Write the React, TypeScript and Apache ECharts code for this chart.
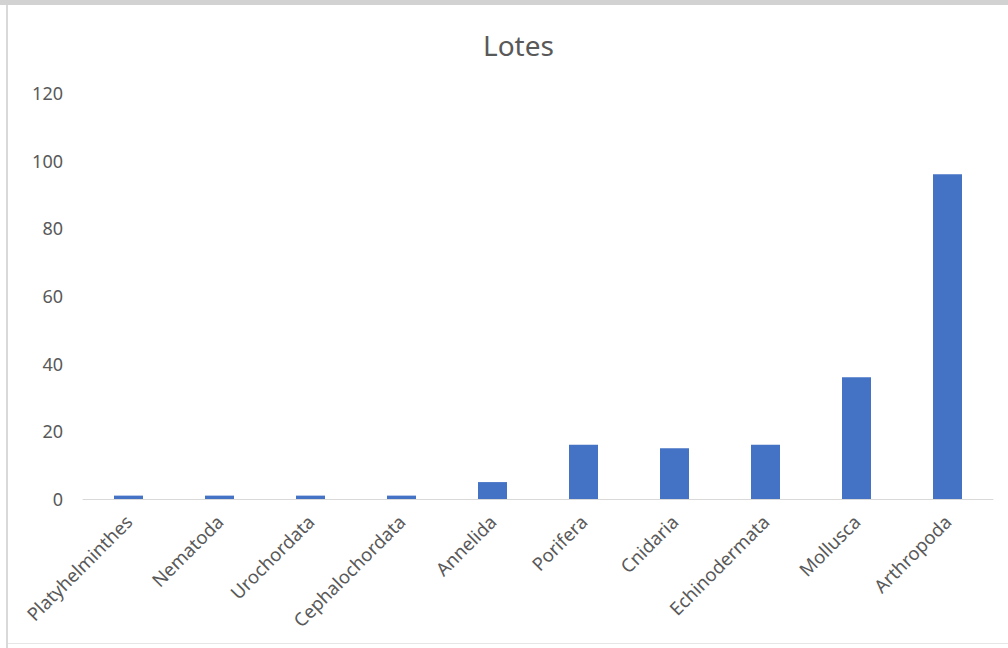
import React, { useEffect, useRef } from "react";
import * as echarts from "echarts";

const categories = [
  "Platyhelminthes",
  "Nematoda",
  "Urochordata",
  "Cephalochordata",
  "Annelida",
  "Porifera",
  "Cnidaria",
  "Echinodermata",
  "Mollusca",
  "Arthropoda",
];
const lotes = [1, 1, 1, 1, 5, 16, 15, 16, 36, 96];
const yTicks = { min: 0, max: 120, interval: 20 };

export default function App() {
  const ref = useRef<HTMLDivElement>(null);
  useEffect(() => {
    if (!ref.current) return;
    const chart = echarts.init(ref.current, null, { renderer: "svg" });
    chart.setOption({
      animation: false,
      backgroundColor: "#ffffff",
      textStyle: { fontFamily: "Noto Sans" },
      title: {
        text: "Lotes",
        left: 478,
        top: 26,
        textStyle: { fontFamily: "Noto Sans", fontSize: 28, fontWeight: "normal", color: "#595959" },
      },
      graphic: [
        { type: "rect", shape: { x: 0, y: 0, width: 1008, height: 5 }, style: { fill: "#d2d2d2" }, silent: true },
        { type: "rect", shape: { x: 6, y: 5, width: 2, height: 643 }, style: { fill: "#d9d9d9" }, silent: true },
        { type: "rect", shape: { x: 8, y: 643, width: 1000, height: 1 }, style: { fill: "#e6e6e6" }, silent: true },
      ],
      grid: { left: 83, right: 15, top: 93, bottom: 149, containLabel: false },
      xAxis: {
        type: "category",
        data: categories,
        axisLine: { lineStyle: { color: "#d9d9d9", width: 1 } },
        axisTick: { show: false },
        axisLabel: {
          rotate: 45,
          interval: 0,
          margin: 19,
          color: "#595959",
          fontSize: 18.5,
          fontFamily: "Noto Sans",
        },
      },
      yAxis: {
        type: "value",
        min: yTicks.min,
        max: yTicks.max,
        interval: yTicks.interval,
        axisLine: { show: false },
        axisTick: { show: false },
        splitLine: { show: false },
        axisLabel: { color: "#595959", fontSize: 18, fontFamily: "Noto Sans", margin: 20 },
      },
      series: [
        {
          type: "bar",
          name: "Lotes",
          data: lotes,
          barWidth: 29,
          itemStyle: { color: "#4472C4" },
        },
      ],
    });
    return () => chart.dispose();
  }, []);
  return (
    <div
      ref={ref}
      style={{ position: "fixed", left: 0, top: 0, width: 1008, height: 648 }}
    />
  );
}
